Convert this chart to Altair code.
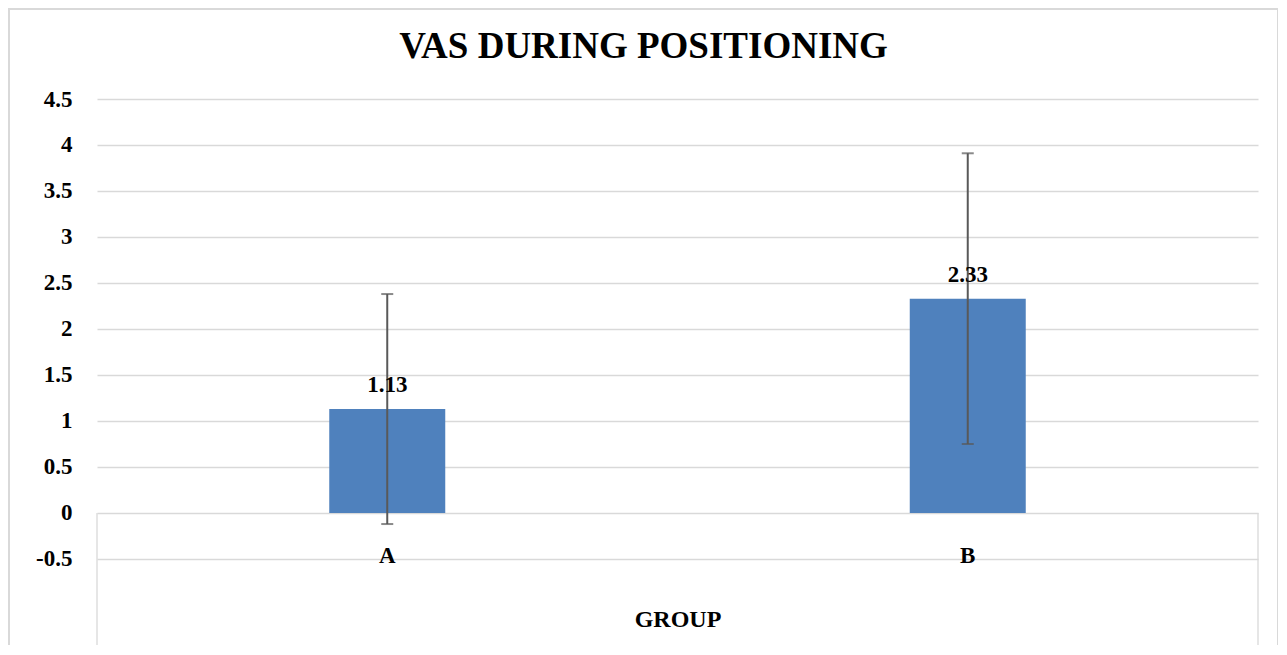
import altair as alt
import pandas as pd

title_text = "VAS DURING POSITIONING"
groups = ["A", "B"]
means = [1.13, 2.33]
sds = [1.25, 1.58]
y_ticks = [-0.5, 0, 0.5, 1, 1.5, 2, 2.5, 3, 3.5, 4, 4.5]

df = pd.DataFrame({"group": groups, "mean": means, "sd": sds})
df["lo"] = df["mean"] - df["sd"]
df["hi"] = df["mean"] + df["sd"]
df["label"] = df["mean"].map(lambda v: f"{v:.2f}")

W = 1161
H = 546
FONT = "Liberation Serif"
GRID = "#d9d9d9"

x_enc = alt.X(
    "group:N",
    title="GROUP",
    scale=alt.Scale(paddingInner=0, paddingOuter=0),
    axis=alt.Axis(
        offset=-132, labelAngle=0, domain=False, ticks=False, tickSize=0, grid=False,
        labelPadding=31, labelFont=FONT, labelFontSize=23, labelFontWeight="bold",
        labelColor="black", titleFont=FONT, titleFontSize=24, titleFontWeight="bold",
        titleColor="black", titleY=113, titleBaseline="alphabetic",
    ),
)
y_scale = alt.Scale(domain=[-1.4348, 4.5], nice=False, zero=False)
y_axis = alt.Axis(
    values=y_ticks, title=None, domain=False, ticks=False, tickSize=0, labelPadding=25,
    grid=True, gridColor=GRID, gridWidth=1.3, labelFont=FONT, labelFontSize=23,
    labelFontWeight="bold", labelColor="black", labelOverlap=False,
    labelExpr="'' + datum.value",
)

base = alt.Chart(df)

bars = base.mark_bar(color="#4f81bd", size=116).encode(
    x=x_enc, y=alt.Y("mean:Q", scale=y_scale, axis=y_axis)
)
err = base.mark_rule(color="#595959", strokeWidth=2).encode(
    x="group:N", y="lo:Q", y2="hi:Q"
)
cap_lo = base.mark_tick(color="#595959", orient="horizontal", size=12, thickness=2).encode(
    x="group:N", y="lo:Q"
)
cap_hi = base.mark_tick(color="#595959", orient="horizontal", size=12, thickness=2).encode(
    x="group:N", y="hi:Q"
)
labels = base.mark_text(
    font=FONT, fontSize=23, fontWeight="bold", color="black", baseline="alphabetic", dy=-17
).encode(x="group:N", y="mean:Q", text="label:N")

frame_df = pd.DataFrame({"k": [0]})
side_left = alt.Chart(frame_df).mark_rule(color=GRID, strokeWidth=1.3).encode(
    x=alt.value(0), y=alt.datum(0), y2=alt.value(H)
)
side_right = alt.Chart(frame_df).mark_rule(color=GRID, strokeWidth=1.3).encode(
    x=alt.value(W), y=alt.datum(0), y2=alt.value(H)
)
outer = alt.Chart(frame_df).mark_rect(
    fill=None, fillOpacity=0, stroke=GRID, strokeWidth=2
).encode(
    x=alt.value(-88), x2=alt.value(1181), y=alt.value(-90), y2=alt.value(H + 40)
)
title = alt.Chart(frame_df).mark_text(
    font=FONT, fontSize=37, fontWeight="bold", color="black",
    align="center", baseline="alphabetic",
).encode(x=alt.value(W / 2 - 34), y=alt.value(-41), text=alt.value(title_text))

chart = alt.layer(outer, side_left, side_right, bars, err, cap_lo, cap_hi, labels, title).properties(
    width=W,
    height=H,
    padding={"left": 89, "top": 91, "right": 20, "bottom": 0},
    autosize=alt.AutoSizeParams(type="none"),
    background="white",
).configure_view(stroke=None)

chart.save("out.html", embed_options={"renderer": "svg", "actions": False})
